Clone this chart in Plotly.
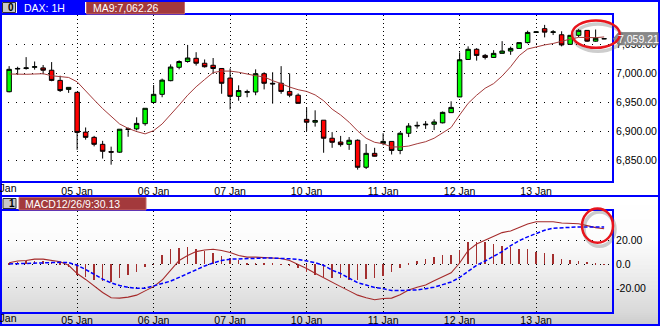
import plotly.graph_objects as go

W, H = 660, 326

# ---------------- data ----------------
day_ticks = [0, 9, 18, 27, 36, 45, 54, 63]
day_labels = ["04 Jan", "05 Jan", "06 Jan", "07 Jan", "10 Jan", "11 Jan", "12 Jan", "13 Jan"]

bar_index = list(range(1, 72))

open_ = [6968, 7007, 7008, 7010, 7009, 7005, 6987.5, 6972, 6967, 6898.5,
         6889.5, 6877.5, 6865, 6864, 6903, 6904, 6913, 6949.5, 6963.5, 6987,
         7010, 7020, 7025.5, 7017, 7013.5, 7008, 6991.5, 6960, 6967, 6967.5,
         6999, 6982.5, 6982.5, 6968.5, 6962, 6920.5, 6915.5, 6919, 6888, 6881.5,
         6877.5, 6884.5, 6838, 6862, 6879, 6882.5, 6867, 6896.5, 6909, 6911,
         6912, 6914.5, 6932, 6959, 7023.5, 7041, 7030.5, 7027, 7034, 7038,
         7042.5, 7052.5, 7070, 7076.5, 7070, 7066, 7049.5, 7065, 7073.5, 7055,
         7059]
high = [7012, 7011, 7027.5, 7020, 7014, 7019, 6995.5, 6975.5, 6967, 6906.5,
        6892, 6883.5, 6873.5, 6903.5, 6906.5, 6924, 6939.5, 6979.5, 6990.5, 7015,
        7022, 7048.5, 7036, 7023.5, 7026, 7008.5, 7008, 6979, 6971.5, 7006.5,
        7001.5, 7001.5, 7012, 6999.5, 6965, 6941, 6936, 6919, 6898.5, 6892,
        6890, 6886, 6878, 6871.5, 6896.5, 6882.5, 6898.5, 6914, 6916.5, 6917.5,
        6920.5, 6934, 6951.5, 7035.5, 7046, 7043, 7033, 7039.5, 7055, 7045.5,
        7052.5, 7073, 7071.5, 7083, 7074, 7072, 7065, 7076, 7073.5, 7075,
        7060]
low = [6967, 6997, 7006, 7006, 6998, 6986, 6967.5, 6966, 6868, 6885.5,
       6874, 6853, 6842.5, 6863, 6890.5, 6901.5, 6909.5, 6949.5, 6958.5, 6986,
       7006.5, 7018, 7013, 7009.5, 6998.5, 6964.5, 6937.5, 6952.5, 6958.5, 6962,
       6972, 6947.5, 6964.5, 6958.5, 6948, 6900.5, 6908, 6863, 6871.5, 6873.5,
       6868, 6834, 6835, 6856.5, 6876, 6860, 6860.5, 6890, 6904.5, 6904,
       6902, 6913.5, 6932, 6959, 7023.5, 7021.5, 7023.5, 7026.5, 7034, 7031.5,
       7042.5, 7051, 7069.5, 7061.5, 7065.5, 7046, 7048.5, 7062, 7054, 7054,
       7058.5]
close = [7006.5, 7008, 7009, 7011, 7005, 6987.5, 6970, 6975.5, 6898, 6889.5,
         6877.5, 6865.5, 6864, 6903.5, 6904, 6913.5, 6939.5, 6963.5, 6988, 7010.5,
         7020, 7026, 7017, 7011, 7008, 6982.5, 6960, 6970, 6968, 6999,
         6982.5, 6981.5, 6968.5, 6962, 6948, 6915.5, 6918.5, 6888, 6881, 6877,
         6884.5, 6838, 6862, 6857, 6882.5, 6867, 6896.5, 6909, 6910, 6912,
         6916, 6932.5, 6941, 7023, 7041, 7030.5, 7027, 7034, 7038, 7042.5,
         7052.5, 7070, 7071, 7070.5, 7071, 7048.5, 7065, 7073.5, 7055, 7060,
         7059.21]
ma9 = [6998.5, 6998, 6998, 6998.5, 6999, 6995.5, 6994.5, 6992.5, 6985, 6969,
       6954, 6939, 6925, 6912.5, 6905, 6899.5, 6895.5, 6901, 6912.5, 6928,
       6945, 6962, 6976.5, 6989, 7001, 7003.5, 7003.5, 7001.5, 6998, 6995.5,
       6993.5, 6987, 6982, 6976, 6971.5, 6968.5, 6962.5, 6952.5, 6938, 6928,
       6915.5, 6900.5, 6888, 6881, 6878.5, 6873, 6873, 6874.5, 6878.5, 6882,
       6888, 6898, 6906.5, 6928, 6948, 6962, 6974, 6982, 6995, 7011,
       7030, 7041.5, 7045.5, 7048.5, 7051, 7055, 7058.5, 7061.5, 7061, 7061,
       7062.26]
macd = [1.4, 2.8, 3.3, 4.4, 4.4, 3.6, 2.2, -0.8, -7.8, -12.8,
        -18.3, -23.9, -28.3, -28.6, -27.8, -26.1, -22.5, -18.9, -13.3, -5.0,
        3.3, 7.5, 10.8, 12.2, 12.8, 11.7, 10.0, 7.5, 6.1, 6.1,
        5.6, 5.6, 5.0, 3.3, 0.0, -3.6, -7.5, -11.5, -15.5, -18.9,
        -22.5, -26.1, -28.3, -30.0, -28.9, -28.6, -25.8, -21.7, -19.4, -17.5,
        -13.9, -10.6, -7.2, 1.1, 11.7, 17.2, 20.6, 23.9, 26.9, 28.3,
        31.1, 34.2, 36.1, 36.1, 36.1, 35.0, 34.7, 34.4, 32.8, 31.1,
        30.13]
signal = [0.3, 0.6, 0.8, 1.4, 1.7, 1.7, 1.7, 1.4, -0.8, -4.4,
          -8.6, -12.5, -15.8, -18.0, -19.4, -20.3, -20.3, -18.3, -16.1, -14.2,
          -11.1, -7.8, -4.4, -1.4, 1.1, 3.3, 4.4, 4.7, 5.3, 5.3,
          5.3, 5.3, 5.3, 4.7, 4.2, 2.8, 1.4, -0.8, -5.0, -7.8,
          -11.4, -15.6, -17.5, -19.7, -20.6, -22.2, -22.2, -22.2, -21.7, -20.6,
          -19.4, -17.2, -15.0, -11.1, -5.8, -0.8, 2.8, 6.9, 10.8, 15.8,
          20.0, 23.3, 26.4, 28.9, 30.6, 31.1, 31.1, 31.7, 31.7, 31.7,
          31.7]
hist = [1.0, 2.0, 2.5, 3.0, 2.7, 1.9, 0.5, -2.0, -9.0, -11.0,
        -13.3, -14.0, -15.0, -12.0, -9.2, -6.4, -2.2, -0.5, 7.5, 13.0,
        13.9, 14.4, 13.0, 11.7, 10.0, 7.0, 5.0, 3.5, 1.0, 1.5,
        1.0, 0.5, -0.5, -1.5, -3.5, -6.4, -9.2, -11.0, -12.0, -12.0,
        -13.3, -13.3, -12.8, -11.9, -10.0, -6.4, -2.8, 1.1, 2.5, 4.2,
        6.1, 7.5, 8.1, 12.2, 19.2, 18.6, 18.6, 17.2, 15.8, 14.4,
        13.0, 13.0, 10.3, 9.7, 8.9, 4.7, 3.3, 2.5, 1.9, 1.1,
        -0.3]

price_ticks = [6850, 6900, 6950, 7000, 7050]
macd_ticks = [-20, 0, 20]
macd_tick_text = ["-20.00", "0.0", "20.00"]

symbol_label = "DAX: 1H"
last_price = 7059.21
last_ma = 7062.26
last_macd = 30.13

# ---------------- helpers (pixel -> paper) ----------------
def px(x):
    return x / W


def py(y):
    return 1 - y / H


FONT = "Liberation Sans, Arial, sans-serif"
BLUE = "#0000FF"
HDR_RED = "#A3393C"
DARKRED = "#A32E2E"

fig = go.Figure()

fig.add_trace(go.Candlestick(
    x=bar_index, open=open_, high=high, low=low, close=close,
    increasing=dict(fillcolor="#00FF00", line=dict(color="black", width=1)),
    decreasing=dict(fillcolor="#FF0000", line=dict(color="black", width=1)),
    whiskerwidth=0, xaxis="x", yaxis="y", showlegend=False, hoverinfo="skip",
))
fig.add_trace(go.Scatter(
    x=bar_index, y=ma9, mode="lines", line=dict(color="#A33A3A", width=1),
    xaxis="x", yaxis="y", showlegend=False, hoverinfo="skip",
))

fig.add_trace(go.Bar(
    x=bar_index, y=hist, width=0.1, marker=dict(color=DARKRED, line=dict(width=0)),
    xaxis="x2", yaxis="y2", showlegend=False, hoverinfo="skip",
))
fig.add_trace(go.Scatter(
    x=bar_index, y=macd, mode="lines", line=dict(color="#A52A2A", width=1.1),
    xaxis="x2", yaxis="y2", showlegend=False, hoverinfo="skip",
))
fig.add_trace(go.Scatter(
    x=bar_index, y=signal, mode="lines", line=dict(color=BLUE, width=1.5, dash="4px,2px"),
    xaxis="x2", yaxis="y2", showlegend=False, hoverinfo="skip",
))

xdom = [px(0.2), px(612.2)]
common_x = dict(
    range=[-0.05, 71.95], domain=xdom, tickmode="array", tickvals=day_ticks, ticktext=day_labels,
    showgrid=True, gridcolor="black", griddash="1px,3px", gridwidth=1,
    showline=True, linecolor=BLUE, linewidth=1.5, mirror=True,
    zeroline=False, ticks="", tickfont=dict(family=FONT, size=10.5, color="black"),
    automargin=False, fixedrange=True,
)
common_y = dict(
    side="right", showgrid=True, gridcolor="black", griddash="1px,7px", gridwidth=1,
    showline=True, linecolor=BLUE, linewidth=1.5, mirror=True, zeroline=False,
    ticks="", tickfont=dict(family=FONT, size=10.5, color="black"), fixedrange=True,
    tickmode="array", automargin=False,
)

shapes = []
annotations = []

# first (partially cut) day label at the left edge of each panel
for xa, ypix in (("x", 187.5), ("x2", 318)):
    annotations.append(dict(xref=xa, yref="paper", x=day_ticks[0], y=py(ypix), text=day_labels[0],
                            showarrow=False, xanchor="center", yanchor="middle",
                            font=dict(family=FONT, size=10.5, color="black")))

# lower panel vertical gradient background
stops = [(197, 255), (238, 252), (262, 242), (290, 228), (312, 216), (326, 202)]
y = 197
while y < 326:
    for (ya, ca), (yb, cb) in zip(stops[:-1], stops[1:]):
        if ya <= y < yb:
            c = int(round(ca + (cb - ca) * (y - ya) / (yb - ya)))
            break
    shapes.append(dict(type="rect", xref="paper", yref="paper", x0=0, x1=1,
                       y0=py(y + 2), y1=py(y), fillcolor=f"rgb({c},{c},{c})",
                       line=dict(width=0), layer="below"))
    y += 2

# headers
def header_box(x0, y0, x1, y1, fill, border):
    shapes.append(dict(type="rect", xref="paper", yref="paper", x0=px(x0), x1=px(x1),
                       y0=py(y1), y1=py(y0), fillcolor=fill,
                       line=dict(color=border, width=1), layer="above"))


def header_text(x, yc, text, color="white", size=10.5, bold=False):
    annotations.append(dict(xref="paper", yref="paper", x=px(x), y=py(yc), text=("<b>%s</b>" % text) if bold else text,
                            showarrow=False, xanchor="left", yanchor="middle",
                            font=dict(family=FONT, size=size, color=color)))

# top panel header
header_box(2.5, 2.5, 15.5, 12.5, "#C8C8C8", "#303030")
header_text(5.5, 7.8, "0", color="black", size=10, bold=True)
header_box(17.5, 1, 84.5, 14, BLUE, BLUE)
header_text(22, 7.8, symbol_label)
header_box(86.5, 1.5, 184.5, 14, HDR_RED, "#C46A6A")
header_text(91, 7.8, f"MA9:{last_ma:,.2f}")

# lower panel header
header_box(3, 198.5, 16, 208.5, "#C8C8C8", "#303030")
header_text(6.5, 203.8, "1", color="black", size=10, bold=True)
header_box(19, 197.5, 146, 210, HDR_RED, "#C46A6A")
header_text(23, 204, f"MACD12/26/9:{last_macd:.2f}")

# panel borders
shapes.append(dict(type="rect", xref="paper", yref="paper", x0=px(1), x1=px(659),
                   y0=py(196), y1=py(1), line=dict(color=BLUE, width=2), layer="above"))
shapes.append(dict(type="rect", xref="paper", yref="paper", x0=px(1), x1=px(659),
                   y0=py(325), y1=py(196), line=dict(color=BLUE, width=2), layer="above"))

# last price tag
shapes.append(dict(type="path", xref="paper", yref="y", ysizemode="pixel", yanchor=last_price,
                   path=f"M {px(613.3)},0 L {px(618.5)},-6 L {px(658)},-6 L {px(658)},6 L {px(618.5)},6 Z",
                   fillcolor="#8A8A8A", line=dict(color="#7A7A7A", width=1), layer="above"))
annotations.append(dict(xref="paper", yref="y", x=px(616), y=last_price, text=f"{last_price:,.2f}",
                        showarrow=False, xanchor="left", yanchor="middle",
                        font=dict(family=FONT, size=10.5, color="white")))

# highlight ellipses with soft shadow
def ellipse(x0, y0, x1, y1):
    shapes.append(dict(type="circle", xref="paper", yref="paper", x0=px(x0 + 2), x1=px(x1 + 2),
                       y0=py(y1 + 3.5), y1=py(y0 + 3.5), line=dict(color="rgba(90,90,90,0.30)", width=3.5),
                       layer="above"))
    shapes.append(dict(type="circle", xref="paper", yref="paper", x0=px(x0), x1=px(x1),
                       y0=py(y1), y1=py(y0), line=dict(color="#E8141C", width=2.5), layer="above"))

ellipse(572, 20.5, 619.8, 47.8)
ellipse(582, 208.5, 613, 242.8)

fig.update_layout(
    width=W, height=H, margin=dict(l=0, r=0, t=0, b=0, autoexpand=False),
    paper_bgcolor="white", plot_bgcolor="rgba(0,0,0,0)",
    showlegend=False, boxgap=0.25, bargap=0,
    font=dict(family=FONT, size=10.5, color="black"),
    xaxis=dict(anchor="y", rangeslider=dict(visible=False), **common_x),
    yaxis=dict(anchor="x", domain=[py(181), py(15)], range=[6814.4, 7100],
               tickvals=price_ticks, tickformat=",.2f", **common_y),
    xaxis2=dict(anchor="y2", ticklabelstandoff=-2, **common_x),
    yaxis2=dict(anchor="x2", domain=[py(312), py(211)], range=[-40.4, 45.2],
                tickvals=macd_ticks, ticktext=macd_tick_text, **common_y),
    shapes=shapes, annotations=annotations,
)

fig.write_html("out.html")
